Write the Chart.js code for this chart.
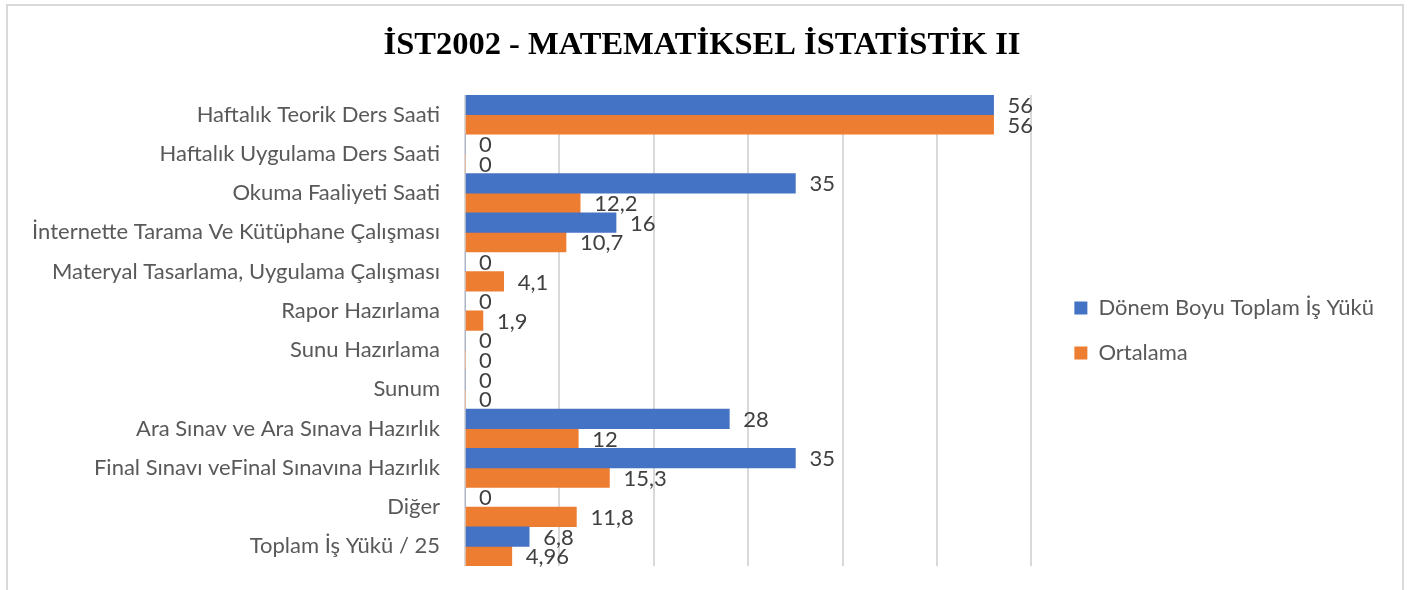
<!DOCTYPE html>
<html>
<head>
<meta charset="utf-8">
<script src="https://cdn.jsdelivr.net/npm/chart.js@4/dist/chart.umd.min.js"></script>
<style>
  body { margin: 0; background: #fff; }
  #wrap { position: relative; width: 1412px; height: 590px; }
  #frame { position: absolute; left: 6px; top: 4px; width: 1398px; height: 700px;
           border: 2px solid #d9d9d9; box-sizing: border-box; pointer-events: none; }
</style>
</head>
<body>
<div id="wrap">
  <canvas id="myChart"></canvas>
  <div id="frame"></div>
</div>
<script>
let categories = [
  'Haftalık Teorik Ders Saati',
  'Haftalık Uygulama Ders Saati',
  'Okuma Faaliyeti Saati',
  'İnternette Tarama Ve Kütüphane Çalışması',
  'Materyal Tasarlama, Uygulama Çalışması',
  'Rapor Hazırlama',
  'Sunu Hazırlama',
  'Sunum',
  'Ara Sınav ve Ara Sınava Hazırlık',
  'Final Sınavı veFinal Sınavına Hazırlık',
  'Diğer',
  'Toplam İş Yükü / 25'
]
let toplam = [56, 0, 35, 16, 0, 0, 0, 0, 28, 35, 0, 6.8]
let ortalama = [56, 0, 12.2, 10.7, 4.1, 1.9, 0, 0, 12, 15.3, 11.8, 4.96]
let seriesNames = ['Dönem Boyu Toplam İş Yükü', 'Ortalama']

const FONT = 'Lato'
const FS = 22

// value labels at the end of each bar
const barLabels = {
  id: 'barLabels',
  afterDatasetsDraw(chart) {
    let ctx = chart.ctx
    ctx.save()
    ctx.font = FS + 'px ' + FONT
    ctx.fillStyle = '#404040'
    ctx.textAlign = 'left'
    ctx.textBaseline = 'middle'
    chart.data.datasets.forEach((ds, i) => {
      chart.getDatasetMeta(i).data.forEach((bar, j) => {
        let txt = String(ds.data[j]).replace('.', ',')
        ctx.fillText(txt, bar.x + 14, bar.y + 1)
      })
    })
    ctx.restore()
  }
}

let ctx = document.getElementById('myChart').getContext('2d')

let chart = new Chart(ctx, {
  type: 'bar',
  data: {
    labels: categories,
    datasets: [{
      label: seriesNames[0],
      backgroundColor: '#4472C4',
      data: toplam
    }, {
      label: seriesNames[1],
      backgroundColor: '#ED7D31',
      data: ortalama
    }]
  },
  plugins: [barLabels],
  options: {
    indexAxis: 'y',
    responsive: true,
    maintainAspectRatio: false,
    animation: false,
    layout: { padding: { left: 20, right: 28, top: 0, bottom: 24 } },
    datasets: {
      bar: { categoryPercentage: 1, barPercentage: 1, borderWidth: 0 }
    },
    scales: {
      x: {
        min: 0,
        max: 62.12,
        ticks: { display: false, stepSize: 10, includeBounds: false },
        border: { display: false },
        grid: {
          drawTicks: false,
          lineWidth: 2,
          color: '#d9d9d9'
        }
      },
      y: {
        afterFit(s) {
          s.width = 445
          s.paddingTop = 0
          s.paddingBottom = 0
        },
        border: { display: false },
        grid: { display: false, drawTicks: false },
        ticks: {
          padding: 25,
          color: '#595959',
          font: { family: FONT, size: FS }
        }
      }
    },
    plugins: {
      title: {
        display: true,
        text: 'İST2002 - MATEMATİKSEL İSTATİSTİK II',
        color: '#000',
        font: { family: 'Liberation Serif', size: 32.5, weight: 'bold' },
        padding: { top: 26, bottom: 30 }
      },
      legend: {
        position: 'right',
        fullSize: false,
        labels: {
          boxWidth: 13,
          boxHeight: 13,
          padding: 23,
          color: '#595959',
          font: { family: FONT, size: FS }
        }
      },
      tooltip: { enabled: false }
    }
  }
})
</script>
</body>
</html>
